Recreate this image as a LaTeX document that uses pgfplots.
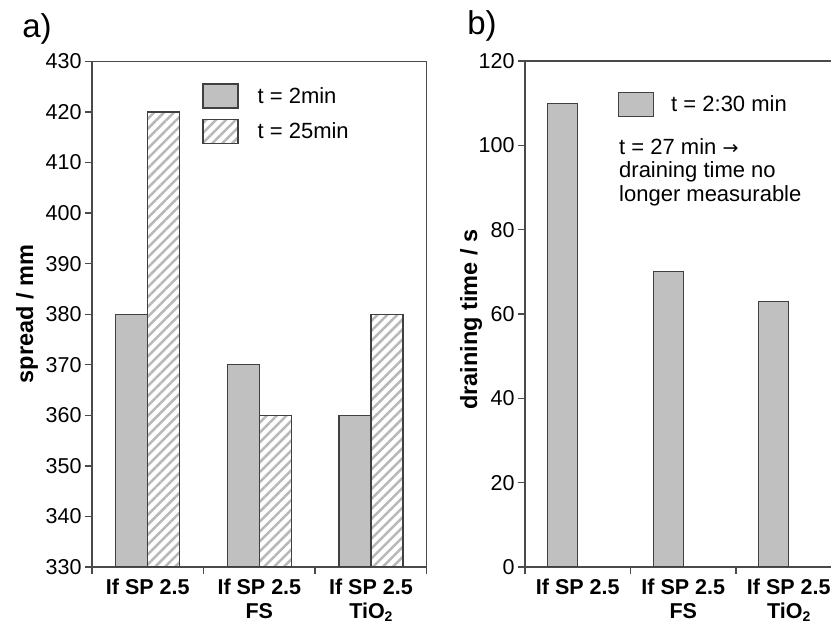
\documentclass[border=0pt]{standalone}
\usepackage{pgfplots}
\pgfplotsset{compat=1.18}
\usepackage{fontspec}
\setmainfont{Liberation Sans}
\newfontfamily\dejavu{DejaVu Sans}
\usetikzlibrary{patterns.meta}
\definecolor{barfill}{HTML}{C0C0C0}
\definecolor{baredge}{HTML}{404040}
\definecolor{axcol}{HTML}{4A4A4A}
\definecolor{hatch}{HTML}{B8B8B8}
\pgfplotsset{
  mybase/.style={
    scale only axis,
    axis line style={axcol, line width=1.3pt},
    every tick/.style={axcol, line width=1.3pt},
    tick align=outside,
    xtick pos=bottom, ytick pos=left,
    major tick length=7pt,
    minor tick length=7pt,
    /pgf/number format/assume math mode=true,
    tick label style={font=\fontsize{21.5}{24}\selectfont},
    xtick={1,2,3},
    minor xtick={0.5,1.5,2.5,3.5},
    xmin=0.5, xmax=3.5,
    xticklabels={If SP 2.5, {If SP 2.5\\FS}, {If SP 2.5\\TiO\raisebox{-3pt}{\fontsize{14}{14}\selectfont 2}}},
    xticklabel style={align=center, yshift=-1.5pt, font=\fontsize{21.5}{23.5}\selectfont\bfseries},
    major x tick style={draw=none},
    ybar=0pt,
    legend image code/.code={\draw[#1, line width=1.3pt] (0pt,-12pt) rectangle (35pt,12pt);},
  }
}
\begin{document}
\begin{tikzpicture}[x=1pt,y=1pt]
\useasboundingbox (0,0) rectangle (831,623);
% panel a
\begin{axis}[mybase,
  at={(92pt,56pt)}, anchor=south west,
  width=334.7pt, height=505.5pt,
  ymin=330, ymax=430, ytick={330,340,...,430},
  bar width=32pt,
  legend style={at={(rel axis cs:0.329,0.957)}, anchor=north west, draw=none, fill=none,
    font=\fontsize{22}{24}\selectfont, row sep=10pt, inner sep=0pt,
    nodes={inner xsep=19pt}},
  legend cell align=left,
]
\addplot[fill=barfill, draw=baredge, line width=1.3pt, bar shift=-16pt] coordinates {(1,380) (2,370) (3,360)};
\addlegendentry{t = 2min}
\addplot[pattern={Lines[angle=45, distance=7pt, line width=2.5pt]}, pattern color=hatch, draw=baredge, line width=1.3pt, bar shift=16pt] coordinates {(1,420) (2,360) (3,380)};
\addlegendentry{t = 25min}
\end{axis}
% panel b
\begin{axis}[mybase,
  at={(525pt,56pt)}, anchor=south west,
  width=316.5pt, height=506pt,
  ymin=0, ymax=120, ytick={0,20,...,120},
  bar width=30pt,
  legend style={at={(rel axis cs:0.293,0.939)}, anchor=north west, draw=none, fill=none,
    font=\fontsize{22}{24}\selectfont, inner sep=0pt,
    nodes={inner xsep=17pt}},
  legend cell align=left,
]
\addplot[fill=barfill, draw=baredge, line width=1.3pt, bar shift=-15pt] coordinates {(1,110) (2,70) (3,63)};
\addlegendentry{t = 2:30 min}
\end{axis}
\node[anchor=north west, align=left, inner sep=0pt, font=\fontsize{22}{23.5}\selectfont] at (619,485) {t = 27 min {\dejavu\fontsize{19}{23.5}\selectfont \symbol{"2192}}\\draining time no\\longer measurable};
% panel letters and y labels
\node[font=\fontsize{33}{36}\selectfont] at (37,594) {a)};
\node[font=\fontsize{33}{36}\selectfont] at (482,597) {b)};
\node[rotate=90, font=\fontsize{23.5}{26}\selectfont\bfseries] at (27,309) {spread / mm};
\node[rotate=90, font=\fontsize{23.5}{26}\selectfont\bfseries] at (471,303.5) {draining time / s};
\end{tikzpicture}
\end{document}
